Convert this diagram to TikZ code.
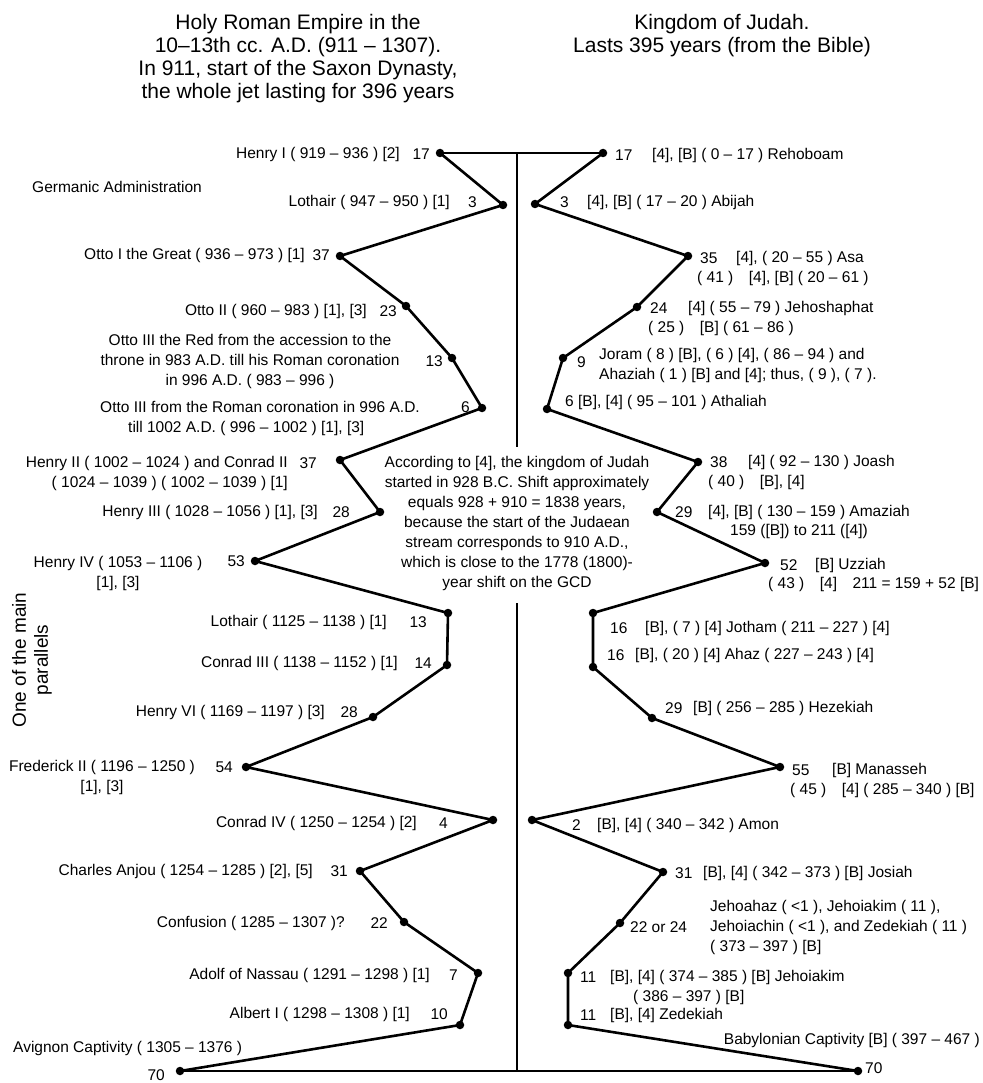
\documentclass[tikz,border=0pt]{standalone}
\usepackage{fontspec}
\setmainfont{Liberation Sans}
\begin{document}
\begin{tikzpicture}[x=1pt,y=-1pt,
  dot/.style={circle,fill=black,inner sep=0pt,minimum size=8.5pt},
  lab/.style={inner sep=0pt,font=\fontsize{15.5}{20}\selectfont},
  ttl/.style={inner sep=0pt,align=center,font=\fontsize{21}{23}\selectfont},
  chainline/.style={line width=2.6pt,line join=round},
  axisline/.style={line width=1.5pt}]
\useasboundingbox[fill=white] (0,0) rectangle (982,1083);

% titles
\node[ttl] (ttlL) at (298,58.5) {Holy Roman Empire in the\\10–13th cc. A.D. (911 – 1307).\\In 911, start of the Saxon Dynasty,\\the whole jet lasting for 396 years};
\node[ttl] (ttlR) at (722,35.5) {Kingdom of Judah.\\Lasts 395 years (from the Bible)};

% dots left
\node[dot] (L1) at (440,153) {};
\node[dot] (L2) at (503,205) {};
\node[dot] (L3) at (340,256) {};
\node[dot] (L4) at (406,306) {};
\node[dot] (L5) at (452,358) {};
\node[dot] (L6) at (482,408) {};
\node[dot] (L7) at (340,460) {};
\node[dot] (L8) at (380,512) {};
\node[dot] (L9) at (255,561) {};
\node[dot] (L10) at (448,613) {};
\node[dot] (L11) at (447,665) {};
\node[dot] (L12) at (373,717) {};
\node[dot] (L13) at (246,767) {};
\node[dot] (L14) at (493,820) {};
\node[dot] (L15) at (360,871) {};
\node[dot] (L16) at (404,922) {};
\node[dot] (L17) at (478,973) {};
\node[dot] (L18) at (460,1025) {};
\node[dot] (L19) at (180,1071) {};
% dots right
\node[dot] (R1) at (603,153) {};
\node[dot] (R2) at (535,204) {};
\node[dot] (R3) at (688,256) {};
\node[dot] (R4) at (637,307) {};
\node[dot] (R5) at (563,358) {};
\node[dot] (R6) at (547,409) {};
\node[dot] (R7) at (698,462) {};
\node[dot] (R8) at (657,512) {};
\node[dot] (R9) at (765,563) {};
\node[dot] (R10) at (593,613) {};
\node[dot] (R11) at (593,667) {};
\node[dot] (R12) at (652,718) {};
\node[dot] (R13) at (780,767) {};
\node[dot] (R14) at (532,820) {};
\node[dot] (R15) at (663,872) {};
\node[dot] (R16) at (620,923) {};
\node[dot] (R17) at (568,973) {};
\node[dot] (R18) at (568,1025) {};
\node[dot] (R19) at (858,1071) {};

% axis
\coordinate (ctop) at (517,153);
\coordinate (cgapA) at (517,447);
\coordinate (cgapB) at (517,603);
\coordinate (cbot) at (517,1071);
\draw[axisline] (L1.center) -- (R1.center);
\draw[axisline] (ctop) -- (cgapA);
\draw[axisline] (cgapB) -- (cbot);
\draw[axisline] (L19.center) -- (R19.center);

% chains
\draw[chainline] (L1.center) -- (L2.center) -- (L3.center) -- (L4.center) -- (L5.center) -- (L6.center) -- (L7.center) -- (L8.center) -- (L9.center) -- (L10.center) -- (L11.center) -- (L12.center) -- (L13.center) -- (L14.center) -- (L15.center) -- (L16.center) -- (L17.center) -- (L18.center) -- (L19.center);
\draw[chainline] (R1.center) -- (R2.center) -- (R3.center) -- (R4.center) -- (R5.center) -- (R6.center) -- (R7.center) -- (R8.center) -- (R9.center) -- (R10.center) -- (R11.center) -- (R12.center) -- (R13.center) -- (R14.center) -- (R15.center) -- (R16.center) -- (R17.center) -- (R18.center) -- (R19.center);

% left labels
\node[lab,anchor=west] (germ) at (32,187) {Germanic Administration};
\node[lab,anchor=east] (nL1) at (430,154) {17};
\node[lab,anchor=east] (tL1) at (400,154) {Henry I ( 919 – 936 ) [2]};
\node[lab,anchor=east] (nL2) at (477,202) {3};
\node[lab,anchor=east] (tL2) at (450,202) {Lothair ( 947 – 950 ) [1]};
\node[lab,anchor=east] (nL3) at (330,255) {37};
\node[lab,anchor=east] (tL3) at (305,255) {Otto I the Great ( 936 – 973 ) [1]};
\node[lab,anchor=east] (nL4) at (397,311) {23};
\node[lab,anchor=east] (tL4) at (367,311) {Otto II ( 960 – 983 ) [1], [3]};
\node[lab,anchor=east] (nL5) at (443,361) {13};
\node[lab,align=center] (tL5) at (250,361) {Otto III the Red from the accession to the\\throne in 983 A.D. till his Roman coronation\\in 996 A.D. ( 983 – 996 )};
\node[lab,anchor=east] (nL6) at (470,407) {6};
\node[lab,anchor=west,align=left] (tL6) at (100,418) {Otto III from the Roman coronation in 996 A.D.\\\hspace*{28pt}till 1002 A.D. ( 996 – 1002 ) [1], [3]};
\node[lab,anchor=east] (nL7) at (317,463) {37};
\node[lab,anchor=east,align=right] (tL7) at (288,473) {Henry II ( 1002 – 1024 ) and Conrad II\\( 1024 – 1039 ) ( 1002 – 1039 ) [1]};
\node[lab,anchor=east] (nL8) at (350,512) {28};
\node[lab,anchor=east] (tL8) at (318,512) {Henry III ( 1028 – 1056 ) [1], [3]};
\node[lab,anchor=east] (nL9) at (245,561) {53};
\node[lab,align=center] (tL9) at (118,573) {Henry IV ( 1053 – 1106 )\\{[1], [3]}};
\node[lab,anchor=east] (nL10) at (427,622) {13};
\node[lab,anchor=east] (tL10) at (387,622) {Lothair ( 1125 – 1138 ) [1]};
\node[lab,anchor=east] (nL11) at (432,663) {14};
\node[lab,anchor=east] (tL11) at (398,663) {Conrad III ( 1138 – 1152 ) [1]};
\node[lab,anchor=east] (nL12) at (358,712) {28};
\node[lab,anchor=east] (tL12) at (325,712) {Henry VI ( 1169 – 1197 ) [3]};
\node[lab,anchor=east] (nL13) at (233,767) {54};
\node[lab,align=center] (tL13) at (102,777) {Frederick II ( 1196 – 1250 )\\{[1], [3]}};
\node[lab,anchor=east] (nL14) at (448,823) {4};
\node[lab,anchor=east] (tL14) at (417,823) {Conrad IV ( 1250 – 1254 ) [2]};
\node[lab,anchor=east] (nL15) at (348,871) {31};
\node[lab,anchor=east] (tL15) at (313,871) {Charles Anjou ( 1254 – 1285 ) [2], [5]};
\node[lab,anchor=east] (nL16) at (388,923) {22};
\node[lab,anchor=east] (tL16) at (345,923) {Confusion ( 1285 – 1307 )?};
\node[lab,anchor=east] (nL17) at (458,975) {7};
\node[lab,anchor=east] (tL17) at (430,975) {Adolf of Nassau ( 1291 – 1298 ) [1]};
\node[lab,anchor=east] (nL18) at (448,1014) {10};
\node[lab,anchor=east] (tL18) at (410,1014) {Albert I ( 1298 – 1308 ) [1]};
\node[lab,anchor=east] (nL19) at (165,1075) {70};
\node[lab,anchor=west] (tL19) at (13,1048) {Avignon Captivity ( 1305 – 1376 )};

% right labels
\node[lab,anchor=west] (nR1) at (615,155) {17};
\node[lab,anchor=west] (tR1) at (652,155) {[4], [B] ( 0 – 17 ) Rehoboam};
\node[lab,anchor=west] (nR2) at (560,202) {3};
\node[lab,anchor=west] (tR2) at (587,202) {[4], [B] ( 17 – 20 ) Abijah};
\node[lab,anchor=west] (nR3) at (700,258) {35};
\node[lab,anchor=west] (tR3) at (736,258) {[4], ( 20 – 55 ) Asa};
\node[lab,anchor=west] (uR3) at (697,278) {( 41 )\quad [4], [B] ( 20 – 61 )};
\node[lab,anchor=west] (nR4) at (650,308) {24};
\node[lab,anchor=west] (tR4) at (688,308) {[4] ( 55 – 79 ) Jehoshaphat};
\node[lab,anchor=west] (uR4) at (648,328) {( 25 )\quad [B] ( 61 – 86 )};
\node[lab,anchor=west] (nR5) at (577,362) {9};
\node[lab,anchor=west,align=left] (tR5) at (599,365) {Joram ( 8 ) [B], ( 6 ) [4], ( 86 – 94 ) and\\Ahaziah ( 1 ) [B] and [4]; thus, ( 9 ), ( 7 ).};
\node[lab,anchor=west] (tR6) at (565,402) {6 [B], [4] ( 95 – 101 ) Athaliah};
\node[lab,anchor=west] (nR7) at (710,462) {38};
\node[lab,anchor=west] (tR7) at (748,462) {[4] ( 92 – 130 ) Joash};
\node[lab,anchor=west] (uR7) at (708,482) {( 40 )\quad [B], [4]};
\node[lab,anchor=west] (nR8) at (675,512) {29};
\node[lab,anchor=west] (tR8) at (708,512) {[4], [B] ( 130 – 159 ) Amaziah};
\node[lab,anchor=west] (uR8) at (730,531) {159 ([B]) to 211 ([4])};
\node[lab,anchor=west] (nR9) at (780,565) {52};
\node[lab,anchor=west] (tR9) at (815,565) {[B] Uzziah};
\node[lab,anchor=west] (uR9) at (768,584) {( 43 )\quad [4]\quad 211 = 159 + 52 [B]};
\node[lab,anchor=west] (nR10) at (610,628) {16};
\node[lab,anchor=west] (tR10) at (645,628) {[B], ( 7 ) [4] Jotham ( 211 – 227 ) [4]};
\node[lab,anchor=west] (nR11) at (607,655) {16};
\node[lab,anchor=west] (tR11) at (635,655) {[B], ( 20 ) [4] Ahaz ( 227 – 243 ) [4]};
\node[lab,anchor=west] (nR12) at (665,708) {29};
\node[lab,anchor=west] (tR12) at (693,708) {[B] ( 256 – 285 ) Hezekiah};
\node[lab,anchor=west] (nR13) at (792,770) {55};
\node[lab,anchor=west] (tR13) at (832,770) {[B] Manasseh};
\node[lab,anchor=west] (uR13) at (790,790) {( 45 )\quad [4] ( 285 – 340 ) [B]};
\node[lab,anchor=west] (nR14) at (572,825) {2};
\node[lab,anchor=west] (tR14) at (597,825) {[B], [4] ( 340 – 342 ) Amon};
\node[lab,anchor=west] (nR15) at (675,873) {31};
\node[lab,anchor=west] (tR15) at (703,873) {[B], [4] ( 342 – 373 ) [B] Josiah};
\node[lab,anchor=west] (nR16) at (630,927) {22 or 24};
\node[lab,anchor=west,align=left] (tR16) at (710,927) {Jehoahaz ( <1 ), Jehoiakim ( 11 ),\\Jehoiachin ( <1 ), and Zedekiah ( 11 )\\( 373 – 397 ) [B]};
\node[lab,anchor=west] (nR17) at (580,977) {11};
\node[lab,anchor=west] (tR17) at (610,977) {[B], [4] ( 374 – 385 ) [B] Jehoiakim};
\node[lab,anchor=west] (uR17) at (633,997) {( 386 – 397 ) [B]};
\node[lab,anchor=west] (nR18) at (580,1015) {11};
\node[lab,anchor=west] (tR18) at (610,1015) {[B], [4] Zedekiah};
\node[lab,anchor=west] (nR19) at (865,1068) {70};
\node[lab,anchor=east] (tR19) at (980,1040) {Babylonian Captivity [B] ( 397 – 467 )};

% centre note
\node[lab,align=center] (note) at (517,523) {According to [4], the kingdom of Judah\\started in 928 B.C. Shift approximately\\equals 928 + 910 = 1838 years,\\because the start of the Judaean\\stream corresponds to 910 A.D.,\\which is close to the 1778 (1800)-\\year shift on the GCD};

% rotated side label
\node[inner sep=0pt,rotate=90,align=center,font=\fontsize{19}{22}\selectfont] (side) at (32,660) {One of the main\\parallels};
\end{tikzpicture}
\end{document}
